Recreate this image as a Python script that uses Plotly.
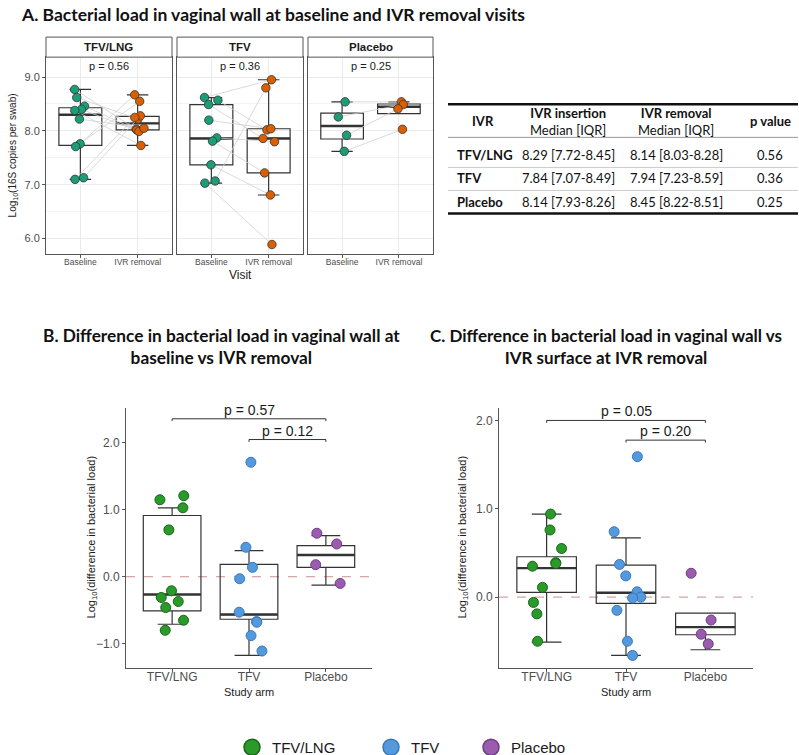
import numpy as np
import plotly.graph_objects as go

W, H = 799, 755          # reference picture size, positions below are in its pixels
FIG_H = 764              # the window shows ~764 px of page squeezed into 755

# ---------------- data ----------------
arms = ["TFV/LNG", "TFV", "Placebo"]
visits = ["Baseline", "IVR removal"]

# Panel A: log10 16S copies per swab (paired baseline / removal, same order)
a_lng_base = [8.77, 8.62, 8.46, 8.40, 8.38, 8.22, 7.76, 7.71, 7.13, 7.10]
a_lng_rem = [8.03, 8.22, 8.02, 7.99, 7.73, 8.05, 8.67, 8.55, 8.28, 8.25]
a_tfv_base = [8.62, 8.57, 8.49, 8.20, 7.87, 7.81, 7.37, 7.07, 7.03]
a_tfv_rem = [8.95, 8.02, 7.86, 8.04, 7.80, 7.22, 6.81, 8.80, 5.89]
a_plc_base = [8.54, 8.26, 7.92, 7.62]
a_plc_rem = [8.54, 8.49, 8.41, 8.03]
a_pvals = ["p = 0.56", "p = 0.36", "p = 0.25"]

# box statistics (TFV/LNG, TFV, Placebo)
a_base_q1 = [7.73, 7.37, 7.85]
a_base_med = [8.30, 7.86, 8.09]
a_base_q3 = [8.43, 8.49, 8.33]
a_base_lo = [7.10, 7.03, 7.62]
a_base_hi = [8.77, 8.62, 8.54]
a_rem_q1 = [8.02, 7.22, 8.32]
a_rem_med = [8.14, 7.86, 8.45]
a_rem_q3 = [8.27, 8.04, 8.50]
a_rem_lo = [7.73, 6.81, 8.32]
a_rem_hi = [8.67, 8.95, 8.54]

# Table
tbl_arm = ["TFV/LNG", "TFV", "Placebo"]
tbl_insertion = ["8.29 [7.72-8.45]", "7.84 [7.07-8.49]", "8.14 [7.93-8.26]"]
tbl_removal = ["8.14 [8.03-8.28]", "7.94 [7.23-8.59]", "8.45 [8.22-8.51]"]
tbl_p = ["0.56", "0.36", "0.25"]

# Panel B: difference baseline vs IVR removal
b_lng = [1.21, 1.15, 1.03, 0.70, -0.21, -0.31, -0.37, -0.46, -0.65, -0.80]
b_tfv = [1.71, 0.44, 0.14, -0.03, -0.53, -0.67, -0.68, -0.88, -1.11]
b_plc = [0.65, 0.49, 0.18, -0.10]
b_q1 = [-0.51, -0.635, 0.14]
b_med = [-0.265, -0.565, 0.325]
b_q3 = [0.915, 0.185, 0.465]
b_lo = [-0.71, -1.175, -0.125]
b_hi = [1.03, 0.39, 0.615]
b_tests = [("TFV/LNG", "Placebo", "p = 0.57"), ("TFV", "Placebo", "p = 0.12")]

# Panel C: difference vaginal wall vs IVR surface
c_lng = [0.94, 0.76, 0.55, 0.39, 0.38, 0.35, 0.11, -0.06, -0.19, -0.50]
c_tfv = [1.59, 0.74, 0.37, 0.24, 0.06, 0.0, -0.01, -0.15, -0.50, -0.66]
c_plc = [0.27, -0.26, -0.42, -0.53]
c_q1 = [0.053, -0.072, -0.426]
c_med = [0.328, 0.049, -0.34]
c_q3 = [0.457, 0.362, -0.181]
c_lo = [-0.51, -0.66, -0.596]
c_hi = [0.94, 0.67, -0.181]
c_tests = [("TFV/LNG", "Placebo", "p = 0.05"), ("TFV", "Placebo", "p = 0.20")]

# ---------------- styles ----------------
FONT = "Liberation Sans"
TFONT = "Lato"
VISIT_COL = ["#1B9E77", "#D95F02"]
ARM_FILL = ["#2A9A2A", "#5599DD", "#9B5CB0"]
ARM_EDGE = ["#1A661A", "#3A78BE", "#6E3D85"]
AXCOL = "#555555"
TXTCOL = "#4d4d4d"
BOXW = 0.75


def fx(px):
    return px / W


def fy(py):
    return 1 - py / H


def note(text, px, py, size, family=FONT, xanchor="center", angle=0, color="#1a1a1a"):
    fig.add_annotation(text=text, xref="paper", yref="paper", x=fx(px), y=fy(py),
                       xanchor=xanchor, yanchor="middle", textangle=angle, showarrow=False,
                       font=dict(family=family, size=size, color=color))


fig = go.Figure()
rng = np.random.default_rng(3)


def add_box(xa, ya, pos, q1, med, q3, lo, hi):
    fig.add_trace(go.Box(
        x=[pos], q1=[q1], median=[med], q3=[q3], lowerfence=[lo], upperfence=[hi],
        width=BOXW, boxpoints=False, fillcolor="rgba(255,255,255,0)",
        line=dict(color="#333333", width=1.2), xaxis=xa, yaxis=ya,
        showlegend=False, hoverinfo="skip",
    ))
    # thicker median bar like ggplot
    fig.add_trace(go.Scatter(
        x=[pos - BOXW / 2, pos + BOXW / 2], y=[med, med], mode="lines",
        line=dict(color="#333333", width=2.4), xaxis=xa, yaxis=ya,
        showlegend=False, hoverinfo="skip",
    ))


# ---------------- panel A ----------------
facet_x = [(46, 172), (177, 303), (308, 433)]
a_top, a_bot = 57, 253
a_base = [a_lng_base, a_tfv_base, a_plc_base]
a_rem = [a_lng_rem, a_tfv_rem, a_plc_rem]

for i in range(3):
    k = "" if i == 0 else str(i + 1)
    xa, ya = "x" + k, "y" + k
    add_box(xa, ya, 1, a_base_q1[i], a_base_med[i], a_base_q3[i], a_base_lo[i], a_base_hi[i])
    add_box(xa, ya, 2, a_rem_q1[i], a_rem_med[i], a_rem_q3[i], a_rem_lo[i], a_rem_hi[i])
    n = len(a_base[i])
    xb = 1 + rng.uniform(-0.12, 0.12, n)
    xr = 2 + rng.uniform(-0.12, 0.12, n)
    lx, ly = [], []
    for j in range(n):
        lx += [xb[j], xr[j], None]
        ly += [a_base[i][j], a_rem[i][j], None]
    fig.add_trace(go.Scatter(x=lx, y=ly, mode="lines", line=dict(color="#d0d0d0", width=0.8),
                             xaxis=xa, yaxis=ya, showlegend=False, hoverinfo="skip"))
    for xs, ys, col in [(xb, a_base[i], VISIT_COL[0]), (xr, a_rem[i], VISIT_COL[1])]:
        fig.add_trace(go.Scatter(x=xs, y=ys, mode="markers",
                                 marker=dict(size=8.5, color=col, line=dict(color="#333333", width=0.8)),
                                 xaxis=xa, yaxis=ya, showlegend=False))

    x0, x1 = facet_x[i]
    fig.add_shape(type="rect", xref="paper", yref="paper", x0=fx(x0), x1=fx(x1),
                  y0=fy(a_top), y1=fy(37), line=dict(color=AXCOL, width=1), fillcolor="white")
    note(f"<b>{arms[i]}</b>", (x0 + x1) / 2, 47, 11.5)
    note(a_pvals[i], (x0 + x1) / 2, 66, 11)

# ---------------- panels B and C ----------------
cat_pos = {a: i + 1 for i, a in enumerate(arms)}


def draw_diff(xa, ya, groups, q1, med, q3, lo, hi, tests, levels, tip):
    for i in range(3):
        add_box(xa, ya, i + 1, q1[i], med[i], q3[i], lo[i], hi[i])
    for i, vals in enumerate(groups):
        xs = (i + 1) + rng.uniform(-0.2, 0.2, len(vals))
        fig.add_trace(go.Scatter(x=xs, y=vals, mode="markers",
                                 marker=dict(size=10, color=ARM_FILL[i], line=dict(color=ARM_EDGE[i], width=1)),
                                 xaxis=xa, yaxis=ya, showlegend=False))
    for (g1, g2, lab), lev in zip(tests, levels):
        a, b = cat_pos[g1], cat_pos[g2]
        fig.add_trace(go.Scatter(x=[a, a, b, b], y=[lev - tip, lev, lev, lev - tip], mode="lines",
                                 line=dict(color="#333333", width=1), xaxis=xa, yaxis=ya,
                                 showlegend=False, hoverinfo="skip"))
        fig.add_annotation(text=lab, x=(a + b) / 2, y=lev, xref=xa, yref=ya,
                           xanchor="center", yanchor="bottom", showarrow=False, yshift=-1,
                           font=dict(family=FONT, size=14, color="#1a1a1a"))
    fig.add_shape(type="line", xref=f"{xa} domain", yref=ya, x0=0, x1=1, y0=0, y1=0,
                  line=dict(color="#CD8C8C", width=1, dash="dash"), layer="below")


draw_diff("x4", "y4", [b_lng, b_tfv, b_plc], b_q1, b_med, b_q3, b_lo, b_hi, b_tests, [2.36, 2.05], 0.035)
draw_diff("x5", "y5", [c_lng, c_tfv, c_plc], c_q1, c_med, c_q3, c_lo, c_hi, c_tests, [2.0, 1.777], 0.027)

# legend-only entries
for i, a in enumerate(arms):
    fig.add_trace(go.Scatter(x=[None], y=[None], mode="markers", name=a,
                             marker=dict(size=16, color=ARM_FILL[i], line=dict(color=ARM_EDGE[i], width=1.5)),
                             xaxis="x4", yaxis="y4", legend="legend" if i == 0 else f"legend{i + 1}"))

# ---------------- table ----------------
tcols = [483, 568, 676, 770]
hdr = ["<b>IVR</b>", "<b>IVR insertion</b><br>Median [IQR]", "<b>IVR removal</b><br>Median [IQR]", "<b>p value</b>"]
for cx, h in zip(tcols, hdr):
    note(h, cx, 121, 13, TFONT, color="#111111")
for r in range(3):
    ry = 155 + r * 23
    note(f"<b>{tbl_arm[r]}</b>", 455, ry, 13, TFONT, xanchor="left", color="#111111")
    for cx, val in zip(tcols[1:], [tbl_insertion[r], tbl_removal[r], tbl_p[r]]):
        note(val, cx, ry, 13, TFONT, color="#111111")
for ly, lw, lc in [(104, 2.5, "#111111"), (137, 1, "#999999"), (167, 1, "#cccccc"),
                   (190, 1, "#cccccc"), (213, 2.5, "#111111")]:
    fig.add_shape(type="line", xref="paper", yref="paper", x0=fx(448), x1=fx(798),
                  y0=fy(ly), y1=fy(ly), line=dict(color=lc, width=lw))

# ---------------- titles & axis labels ----------------
note("<b>A. Bacterial load in vaginal wall at baseline and IVR removal visits</b>", 19, 14, 17.5,
     TFONT, xanchor="left", color="#111111")
note("<b>B. Difference in bacterial load in vaginal wall at<br>baseline vs IVR removal</b>", 221, 346,
     17.3, TFONT, color="#111111")
note("<b>C. Difference in bacterial load in vaginal wall vs<br>IVR surface at IVR removal</b>", 606, 346,
     17.0, TFONT, color="#111111")

note("Log<sub>10</sub>(16S copies per swab)", 13, 155, 10, angle=-90)
note("Visit", 240, 274, 12)
note("Log<sub>10</sub>(difference in bacterial load)", 92, 536, 11, angle=-90)
note("Study arm", 249, 690, 11)
note("Log<sub>10</sub>(difference in bacterial load)", 463, 536, 11, angle=-90)
note("Study arm", 626, 690, 11)

# ---------------- axes ----------------
axes = {}
for i, (x0, x1) in enumerate(facet_x):
    k = "" if i == 0 else str(i + 1)
    axes["xaxis" + k] = dict(
        domain=[fx(x0), fx(x1)], anchor="y" + k, range=[0.4, 2.6], tickvals=[1, 2], ticktext=visits,
        showgrid=True, gridcolor="#ebebeb", gridwidth=1, zeroline=False, automargin=False,
        showline=True, mirror=True, linecolor=AXCOL, linewidth=1,
        ticks="outside", ticklen=3, tickcolor=AXCOL, ticklabelstandoff=-3,
        tickfont=dict(family=FONT, size=8.5, color=TXTCOL),
    )
    axes["yaxis" + k] = dict(
        domain=[fy(a_bot), fy(a_top)], anchor="x" + k, range=[5.72, 9.37],
        tickvals=[6, 7, 8, 9], tickformat=".1f", showticklabels=(i == 0), automargin=False,
        ticks="outside" if i == 0 else "", ticklen=3, tickcolor=AXCOL,
        showgrid=True, gridcolor="#ebebeb", gridwidth=1, zeroline=False,
        minor=dict(tickvals=[5.5, 6.5, 7.5, 8.5], showgrid=True, gridcolor="#f3f3f3", gridwidth=0.6),
        showline=True, mirror=True, linecolor=AXCOL, linewidth=1,
        tickfont=dict(family=FONT, size=11, color=TXTCOL),
    )

for k, (x0, x1), yr in [("4", (126, 372), [-1.36, 2.52]), ("5", (499, 753), [-0.80, 2.14])]:
    axes["xaxis" + k] = dict(
        domain=[fx(x0), fx(x1)], anchor="y" + k, range=[0.4, 3.6], tickvals=[1, 2, 3], ticktext=arms,
        showgrid=False, zeroline=False, showline=True, linecolor=AXCOL, linewidth=1, automargin=False,
        ticks="outside", ticklen=3, tickcolor=AXCOL, ticklabelstandoff=-5,
        tickfont=dict(family=FONT, size=12, color=TXTCOL),
    )
    axes["yaxis" + k] = dict(
        domain=[fy(666), fy(407)], anchor="x" + k, range=yr, tickvals=[-1, 0, 1, 2], automargin=False,
        tickformat=".1f", showgrid=False, zeroline=False, showline=True, linecolor=AXCOL, linewidth=1,
        ticks="outside", ticklen=3, tickcolor=AXCOL,
        tickfont=dict(family=FONT, size=12, color=TXTCOL),
    )

leg_common = dict(yanchor="middle", y=fy(746), xanchor="left", bgcolor="rgba(0,0,0,0)",
                  font=dict(family=FONT, size=15, color="#1a1a1a"), borderwidth=0)

fig.update_layout(
    width=W, height=FIG_H, margin=dict(l=0, r=0, t=0, b=0),
    paper_bgcolor="white", plot_bgcolor="white",
    font=dict(family=FONT),
    legend=dict(x=fx(232), **leg_common),
    legend2=dict(x=fx(371), **leg_common),
    legend3=dict(x=fx(471), **leg_common),
    **axes,
)

# drop the page's default body margin so the figure starts at the window corner
fig.write_html("out.html", config={"displayModeBar": False},
               post_script="document.body.style.margin='0';document.body.style.overflow='hidden';")
